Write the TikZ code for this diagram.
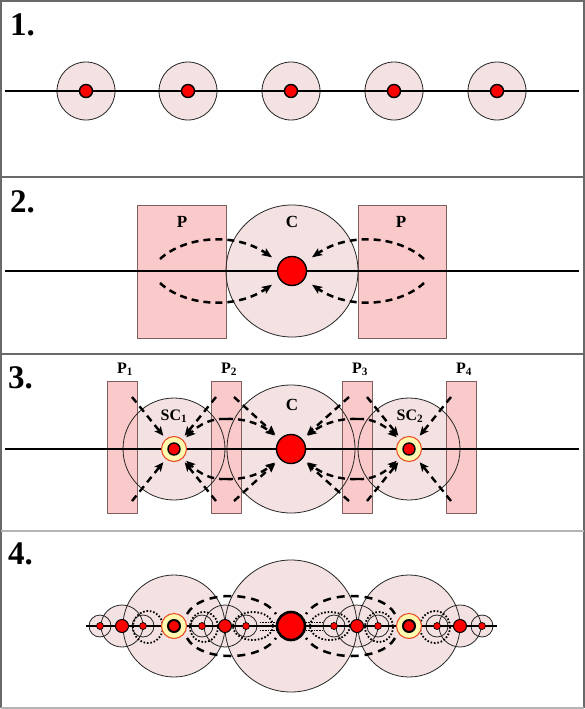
\documentclass[tikz,border=0pt]{standalone}
\usepackage{fontspec}
\setmainfont{Liberation Serif}
\usetikzlibrary{arrows.meta}
\definecolor{fieldpink}{RGB}{244,226,226}
\definecolor{rectpink}{RGB}{250,202,202}
\definecolor{rectedge}{RGB}{125,95,95}
\definecolor{framegray}{RGB}{105,105,105}
\definecolor{lightframe}{RGB}{180,180,180}
\definecolor{ringyellow}{RGB}{255,250,175}
\definecolor{ringred}{RGB}{235,70,30}
\begin{document}
\begin{tikzpicture}[x=1pt,y=-1pt,
  axisline/.style={line width=2.4pt,black},
  fieldline/.style={draw=black!85,line width=0.8pt},
  pbox/.style={fill=rectpink,draw=rectedge,line width=0.8pt},
  reddot/.style={circle,fill=red,draw=black,line width=1.4pt,inner sep=0pt,minimum size=#1},
  ring/.style={circle,fill=ringyellow,draw=ringred,line width=1pt,inner sep=0pt,minimum size=25pt},
  flux/.style={line width=2.5pt,dash pattern=on 7pt off 5pt,-{Stealth[length=10pt,width=8pt,inset=2pt]}},
  fluxs/.style={line width=2.4pt,dash pattern=on 7pt off 5pt,-{Stealth[length=9pt,width=8pt,inset=2pt]}},
  lbl/.style={font=\bfseries\fontsize{17}{17}\selectfont,inner sep=0pt,anchor=base},
  slbl/.style={font=\bfseries\fontsize{16}{16}\selectfont,inner sep=0pt,anchor=base},
  num/.style={font=\bfseries\fontsize{33}{33}\selectfont,inner sep=0pt,anchor=base west},
  bigdash/.style={line width=2.5pt,dash pattern=on 8pt off 6pt},
  dotline/.style={line width=1.8pt,dash pattern=on 1.6pt off 1.8pt},
  thindot/.style={line width=0.7pt,dash pattern=on 0.8pt off 0.8pt},
]
\useasboundingbox (0,0) rectangle (585,709);
\fill[white] (0,0) rectangle (585,709);
% frame
\draw[framegray,line width=1.4pt] (1,708) -- (1,1) -- (584,1) -- (584,708);
\draw[framegray,line width=1.4pt] (1,177) -- (584,177);
\draw[framegray,line width=1.4pt] (1,354) -- (584,354);
\draw[lightframe,line width=1.4pt] (1,531) -- (584,531);
\draw[lightframe,line width=1.4pt] (1,708) -- (584,708);

% ---------------- panel 1
\node[num] (n1) at (10,36) {1.};
\foreach \x in {86,188,291,394,497} \fill[fieldpink] (\x,91) circle[radius=29];
\foreach \x in {86,188,291,394,497} \draw[fieldline] (\x,91) circle[radius=29];
\draw[axisline] (5,91) -- (579,91);
\foreach \x [count=\i] in {86,188,291,394,497} \node[reddot=13pt] (a\i) at (\x,91) {};

% ---------------- panel 2
\node[num] (n2) at (10,212) {2.};
\fill[fieldpink] (292,271) circle[radius=66];
\draw[pbox] (137,205) rectangle (226,338);
\draw[pbox] (358,205) rectangle (446,338);
\draw[fieldline] (292,271) circle[radius=66];
\draw[axisline] (5,271) -- (579,271);
\node[reddot=29pt] (c2) at (292,271) {};
\node[lbl] (pl2) at (182,227) {P};
\node[lbl] (cl2) at (292,227) {C};
\node[lbl] (pr2) at (401,227) {P};
\coordinate (l2t) at (160,259);
\coordinate (l2b) at (160,283);
\coordinate (r2t) at (424,259);
\coordinate (r2b) at (424,283);
\draw[flux,shorten >=9pt] (l2t) .. controls (185,236) and (235,232) .. (c2);
\draw[flux,shorten >=9pt] (l2b) .. controls (185,306) and (235,310) .. (c2);
\draw[flux,shorten >=9pt] (r2t) .. controls (399,236) and (349,232) .. (c2);
\draw[flux,shorten >=9pt] (r2b) .. controls (399,306) and (349,310) .. (c2);

% ---------------- panel 3
\node[num] (n3) at (8,388) {3.};
\fill[fieldpink] (291,449) circle[radius=64];
\foreach \x in {174,409} \fill[fieldpink] (\x,449) circle[radius=51];
\draw[pbox] (107,381) rectangle (137,513);
\draw[pbox] (211,381) rectangle (241,513);
\draw[pbox] (342,381) rectangle (372,513);
\draw[pbox] (446,381) rectangle (476,513);
\draw[fieldline] (291,449) circle[radius=64];
\foreach \x in {174,409} \draw[fieldline] (\x,449) circle[radius=51];
\draw[axisline] (5,449) -- (579,449);
\node[reddot=29pt] (c3) at (291,449) {};
\node[ring] (s1) at (174,449) {};
\node[ring] (s2) at (409,449) {};
\node[reddot=12pt] (s1d) at (174,449) {};
\node[reddot=12pt] (s2d) at (409,449) {};
\node[slbl] (p1l) at (125,373) {P\textsubscript{1}};
\node[slbl] (p2l) at (229,373) {P\textsubscript{2}};
\node[slbl] (p3l) at (360,373) {P\textsubscript{3}};
\node[slbl] (p4l) at (464,373) {P\textsubscript{4}};
\node[lbl] (cl3) at (292,410) {C};
\node[slbl] (sc1l) at (174,420) {SC\textsubscript{1}};
\node[slbl] (sc2l) at (410,420) {SC\textsubscript{2}};
% straight feeds
\foreach \n/\x/\y in {a/132/397,b/132/501,c/216/397,d/216/501} \coordinate (s1\n) at (\x,\y);
\foreach \n/\x/\y in {a/234/397,b/234/501,c/349/397,d/349/501} \coordinate (c3\n) at (\x,\y);
\foreach \n/\x/\y in {a/367/397,b/367/501,c/451/397,d/451/501} \coordinate (s2\n) at (\x,\y);
\foreach \n in {a,b,c,d} {
  \draw[fluxs,shorten >=4pt] (s1\n) -- (s1);
  \draw[fluxs,shorten >=6pt] (c3\n) -- (c3);
  \draw[fluxs,shorten >=4pt] (s2\n) -- (s2);
}
% curved feeds
\coordinate (p2u) at (226,419);
\coordinate (p2d) at (226,479);
\coordinate (p3u) at (357,419);
\coordinate (p3d) at (357,479);
\draw[fluxs,shorten >=4pt] (p2u) .. controls (212,418) and (200,424) .. (s1);
\draw[fluxs,shorten >=4pt] (p2d) .. controls (212,480) and (200,474) .. (s1);
\draw[fluxs,shorten >=6pt] (p2u) .. controls (245,418) and (262,425) .. (c3);
\draw[fluxs,shorten >=6pt] (p2d) .. controls (245,480) and (262,473) .. (c3);
\draw[fluxs,shorten >=6pt] (p3u) .. controls (338,418) and (321,425) .. (c3);
\draw[fluxs,shorten >=6pt] (p3d) .. controls (338,480) and (321,473) .. (c3);
\draw[fluxs,shorten >=4pt] (p3u) .. controls (371,418) and (383,424) .. (s2);
\draw[fluxs,shorten >=4pt] (p3d) .. controls (371,480) and (383,474) .. (s2);

% ---------------- panel 4
\node[num] (n4) at (8,564) {4.};
\fill[fieldpink] (291,626) circle[radius=66];
\foreach \x in {174,409} \fill[fieldpink] (\x,626) circle[radius=51];
\foreach \x in {122,225,357,460} \fill[fieldpink] (\x,626) circle[radius=21];
\foreach \x in {100,143,202,246,334,378,437,482} \fill[fieldpink] (\x,626) circle[radius=11];
\draw[fieldline] (291,626) circle[radius=66];
\foreach \x in {174,409} \draw[fieldline] (\x,626) circle[radius=51];
\foreach \x in {122,225,357,460} \draw[fieldline] (\x,626) circle[radius=21];
\foreach \x in {100,143,202,246,334,378,437,482} \draw[fieldline] (\x,626) circle[radius=11];
% dashed lobes
\draw[bigdash] (187,614) .. controls (200,590) and (260,590) .. (276,614);
\draw[bigdash] (187,638) .. controls (200,662) and (260,662) .. (276,638);
\draw[bigdash] (395,614) .. controls (382,590) and (322,590) .. (306,614);
\draw[bigdash] (395,638) .. controls (382,662) and (322,662) .. (306,638);
% dotted lobes
\draw[dotline] (148,627) ellipse[x radius=15,y radius=16];
\draw[dotline] (204,627) ellipse[x radius=14,y radius=15];
\draw[dotline] (253,626) ellipse[x radius=20,y radius=14];
\draw[dotline] (435,627) ellipse[x radius=15,y radius=16];
\draw[dotline] (379,627) ellipse[x radius=14,y radius=15];
\draw[dotline] (330,626) ellipse[x radius=20,y radius=14];
\draw[thindot] (260,622) -- (277,622);
\draw[thindot] (260,630) -- (277,630);
\draw[thindot] (306,622) -- (323,622);
\draw[thindot] (306,630) -- (323,630);
\draw[line width=2pt] (86,626) -- (497,626);
\foreach \x [count=\i] in {100,143,202,246,334,378,437,482}
  \node[reddot=7pt,line width=0.7pt] (t\i) at (\x,626) {};
\foreach \x [count=\i] in {122,225,357,460}
  \node[reddot=13pt,line width=1pt] (m\i) at (\x,626) {};
\node[ring] (s41) at (174,626) {};
\node[ring] (s42) at (409,626) {};
\node[reddot=12pt,line width=2pt] (s41d) at (174,626) {};
\node[reddot=12pt,line width=2pt] (s42d) at (409,626) {};
\node[reddot=28pt,line width=2.6pt] (c4) at (291,626) {};
\end{tikzpicture}
\end{document}
